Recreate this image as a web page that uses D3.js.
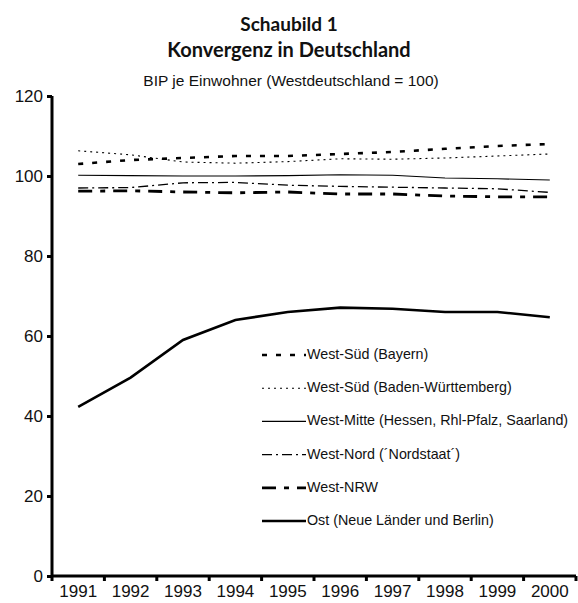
<!DOCTYPE html>
<html>
<head>
<meta charset="utf-8">
<script src="https://cdn.jsdelivr.net/npm/d3@7"></script>
<style>
  body { margin: 0; background: #fff; }
  .title { font-family: "Lato", "Open Sans", sans-serif; font-weight: bold; fill: #111; }
  .sub { font-family: "Liberation Sans", Arial, sans-serif; fill: #111; }
  .tick-label { font-family: "Liberation Sans", Arial, sans-serif; font-size: 17px; fill: #111; }
  .legend-label { font-family: "Liberation Sans", Arial, sans-serif; font-size: 14.3px; fill: #111; }
</style>
</head>
<body>
<svg id="chart"></svg>
<script>
var years = ["1991","1992","1993","1994","1995","1996","1997","1998","1999","2000"];
var yTicks = [0, 20, 40, 60, 80, 100, 120];

// values
var bayern = [103, 104, 104.5, 105, 105, 105.5, 106, 106.8, 107.5, 108];
var badenWuerttemberg = [106.3, 105.3, 103.5, 103.2, 103.6, 104.3, 104.2, 104.5, 105, 105.5];
var westMitte = [100.2, 100.1, 100, 100, 100.1, 100.3, 100.2, 99.5, 99.3, 99];
var westNord = [97, 97.1, 98.3, 98.4, 97.7, 97.4, 97.2, 97, 96.8, 95.9];
var westNRW = [96.2, 96.3, 96, 95.8, 96, 95.5, 95.5, 95, 94.8, 94.8];
var ost = [42.3, 49.6, 59, 64, 66, 67.1, 66.8, 66, 66, 64.7];

var seriesNames = [
  "West-Süd (Bayern)",
  "West-Süd (Baden-Württemberg)",
  "West-Mitte (Hessen, Rhl-Pfalz, Saarland)",
  "West-Nord (\u00B4Nordstaat\u00B4)",
  "West-NRW",
  "Ost (Neue Länder und Berlin)"
];
var seriesValues = [bayern, badenWuerttemberg, westMitte, westNord, westNRW, ost];
var seriesStyles = [
  {w: 2.6, dash: "5,9"},
  {w: 1.1, dash: "2,4"},
  {w: 1.1, dash: null},
  {w: 1.3, dash: "10,4,2,4"},
  {w: 2.8, dash: "14,8,5,8"},
  {w: 2.6, dash: null}
];

var width = 578, height = 603;
var svg = d3.select("#chart").attr("width", width).attr("height", height);

var x = d3.scaleBand().domain(years).range([52, 576]);
var y = d3.scaleLinear().domain([0, 120]).range([576, 96]);

//Titles
svg.append("text").attr("class", "title").attr("x", 289).attr("y", 31)
  .attr("text-anchor", "middle").style("font-size", "19px").text("Schaubild 1");
svg.append("text").attr("class", "title").attr("x", 289).attr("y", 57)
  .attr("text-anchor", "middle").style("font-size", "20px").text("Konvergenz in Deutschland");
svg.append("text").attr("class", "sub").attr("x", 291).attr("y", 86)
  .attr("text-anchor", "middle").style("font-size", "15.5px").text("BIP je Einwohner (Westdeutschland = 100)");

//Axes
var yAxis = svg.append("g")
  .attr("transform", "translate(" + x.range()[0] + ",0)")
  .call(d3.axisLeft(y).tickValues(yTicks).tickSize(5).tickPadding(4));
yAxis.select(".domain").attr("stroke-width", 3).attr("d", "M0," + y(120) + "V" + y(0));
yAxis.selectAll(".tick line").attr("stroke-width", 3);
yAxis.selectAll(".tick text").attr("class", "tick-label").attr("font-size", null).attr("font-family", null);

var xAxis = svg.append("g")
  .attr("transform", "translate(0," + y(0) + ")")
  .call(d3.axisBottom(x).tickSize(0).tickPadding(9));
xAxis.select(".domain").attr("stroke-width", 3).attr("d", "M" + x.range()[0] + ",0H" + x.range()[1]);
xAxis.selectAll(".tick text").attr("class", "tick-label").attr("font-size", null).attr("font-family", null);

//Tick marks on band edges
var edges = years.map(function(d){ return x(d); }).concat([x.range()[1]]);
xAxis.selectAll(".edge").data(edges).enter().append("line")
  .attr("x1", function(d){ return d; }).attr("x2", function(d){ return d; })
  .attr("y1", 0).attr("y2", 5)
  .attr("stroke", "#000").attr("stroke-width", 3);

//Lines
var line = d3.line()
  .x(function(d, i){ return x(years[i]) + x.bandwidth() / 2; })
  .y(function(d){ return y(d); });

seriesValues.forEach(function(vals, i){
  svg.append("path")
    .datum(vals)
    .attr("fill", "none")
    .attr("stroke", "#000")
    .attr("stroke-width", seriesStyles[i].w)
    .attr("stroke-dasharray", seriesStyles[i].dash)
    .attr("d", line);
});

//Legend
var legend = svg.append("g").attr("transform", "translate(262,354)");
seriesNames.forEach(function(name, i){
  var row = legend.append("g").attr("transform", "translate(0," + (i * 33.2) + ")");
  row.append("line")
    .attr("x1", 0).attr("x2", 44).attr("y1", 1).attr("y2", 1)
    .attr("stroke", "#000")
    .attr("stroke-width", seriesStyles[i].w)
    .attr("stroke-dasharray", seriesStyles[i].dash);
  row.append("text").attr("class", "legend-label")
    .attr("x", 45).attr("y", 5).text(name);
});
</script>
</body>
</html>
